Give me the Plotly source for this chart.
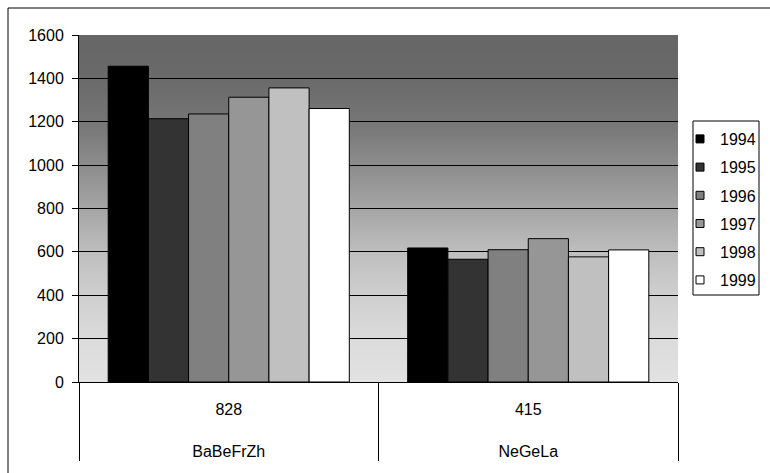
import base64
import struct
import zlib

import numpy as np
import plotly.graph_objects as go

# ---- data ----
codes = ["828", "415"]
groups = ["BaBeFrZh", "NeGeLa"]
years = ["1994", "1995", "1996", "1997", "1998", "1999"]
vals_1994 = [1456, 618]
vals_1995 = [1214, 566]
vals_1996 = [1236, 610]
vals_1997 = [1313, 661]
vals_1998 = [1356, 577]
vals_1999 = [1261, 609]
series = [vals_1994, vals_1995, vals_1996, vals_1997, vals_1998, vals_1999]
y_ticks = [0, 200, 400, 600, 800, 1000, 1200, 1400, 1600]

colors = ["#000000", "#333333", "#808080", "#969696", "#c0c0c0", "#ffffff"]


# ---- gradient background (plot area) ----
def png_gray(rows):
    raw = b"".join(b"\x00" + bytes([int(v)]) for v in rows)

    def chunk(t, d):
        c = struct.pack(">I", len(d)) + t + d
        return c + struct.pack(">I", zlib.crc32(t + d) & 0xFFFFFFFF)

    ihdr = struct.pack(">IIBBBBB", 1, len(rows), 8, 0, 0, 0, 0)
    return (b"\x89PNG\r\n\x1a\n" + chunk(b"IHDR", ihdr)
            + chunk(b"IDAT", zlib.compress(raw)) + chunk(b"IEND", b""))


stop_t = [0.0, 0.125, 0.25, 0.375, 0.5, 0.625, 0.75, 0.875, 1.0]
stop_g = [102, 106, 118, 140, 165, 190, 207, 219, 226]
H = 347
grad = np.interp(np.linspace(0, 1, H), stop_t, stop_g).round().astype(int)
img_uri = "data:image/png;base64," + base64.b64encode(png_gray(grad)).decode()

# inner level labels get an invisible spacer line to space the two label rows apart
inner = [c + "<br><span style='font-size:47px'> </span>" for c in codes]
x_multi = [groups, inner]

fig = go.Figure()
for yr, vals, col in zip(years, series, colors):
    fig.add_trace(go.Bar(
        x=x_multi, y=vals, name=yr, marker=dict(color=col, line=dict(color="#000000", width=1)),
        showlegend=False, hoverinfo="skip",
    ))
# legend entries with small square swatches
for yr, col in zip(years, colors):
    fig.add_trace(go.Scatter(
        x=[None], y=[None], mode="markers", name=yr, legendgroup=yr,
        marker=dict(symbol="square", size=8, color=col, line=dict(color="#000000", width=1)),
    ))

font_family = "Liberation Sans, Arial, sans-serif"
fig.update_layout(
    width=770, height=473,
    margin=dict(l=79, r=92, t=35, b=91, autoexpand=False),
    paper_bgcolor="#ffffff",
    plot_bgcolor="#c0c0c0",
    font=dict(family=font_family, size=16, color="#000000"),
    barmode="group", bargap=0.195, bargroupgap=0,
    showlegend=True,
    legend=dict(
        x=(680 - 79) / 599, y=(382 - 122) / 347, xanchor="left", yanchor="top",
        bgcolor="rgba(0,0,0,0)", borderwidth=0, tracegroupgap=4.4,
        font=dict(family=font_family, size=16, color="#000000"),
    ),
    images=[dict(source=img_uri, xref="paper", yref="paper", x=0, y=1, sizex=1, sizey=1,
                 sizing="stretch", layer="below", xanchor="left", yanchor="top")],
    shapes=[
        # legend box
        dict(type="rect", xref="paper", yref="paper",
             x0=(693 - 79) / 599, x1=(759 - 79) / 599,
             y0=(382 - 295) / 347, y1=(382 - 121) / 347,
             line=dict(color="#000000", width=1), fillcolor="rgba(0,0,0,0)"),
        # chart border
        dict(type="rect", xref="paper", yref="paper",
             x0=(8 - 79) / 599, x1=(790 - 79) / 599,
             y0=(382 - 490) / 347, y1=(382 - 8) / 347,
             line=dict(color="#000000", width=1), fillcolor="rgba(0,0,0,0)"),
    ],
)
fig.update_yaxes(
    range=[0, 1600], tickvals=y_ticks, ticktext=[str(v) for v in y_ticks],
    showline=True, linecolor="#000000", linewidth=1,
    ticks="outside", ticklen=6, tickcolor="#000000", tickwidth=1,
    showgrid=True, gridcolor="#000000", gridwidth=1, zeroline=False,
    ticklabelstandoff=5,
    tickfont=dict(family=font_family, size=16, color="#000000"),
)
fig.update_xaxes(
    type="multicategory",
    showline=True, linecolor="#000000", linewidth=1,
    showgrid=False, ticks="",
    ticklabelstandoff=13,
    showdividers=True, dividercolor="#000000", dividerwidth=1,
    tickfont=dict(family=font_family, size=16, color="#000000"),
)

fig.write_html("out.html", config={"displayModeBar": False},
               post_script="document.body.style.margin='0';")
